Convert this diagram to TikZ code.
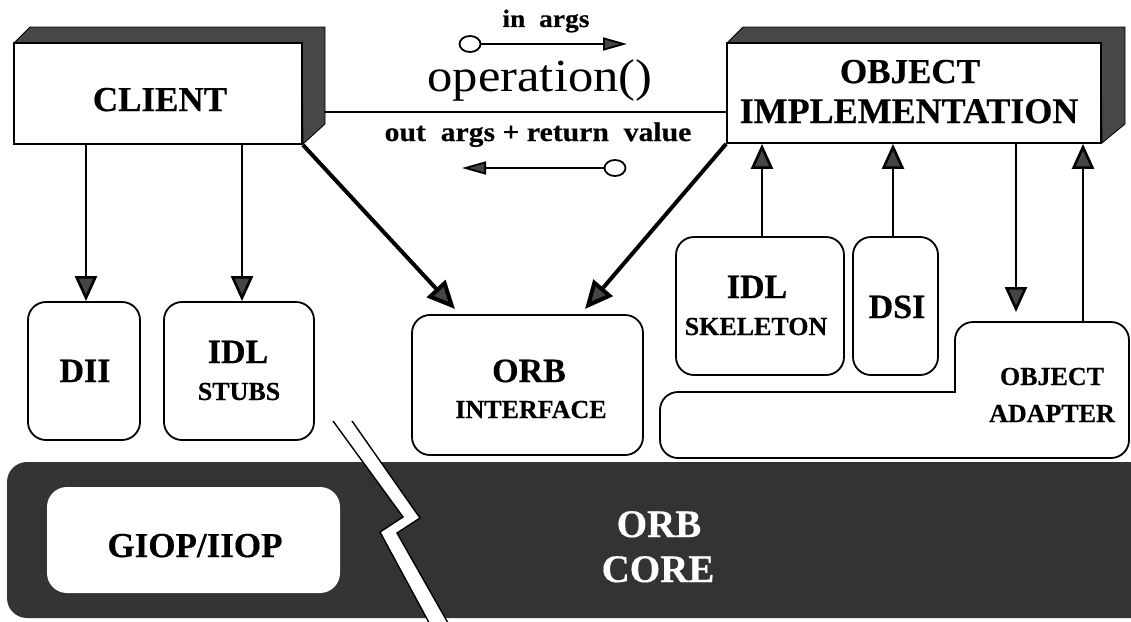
\documentclass[tikz,border=0pt]{standalone}
\usepackage{fontspec}
\setmainfont{Liberation Serif}[BoldFeatures={FakeBold=0.4}]
\newfontfamily\wideserif{Liberation Serif}[FakeStretch=1.1, BoldFeatures={FakeBold=0.4}]
\usetikzlibrary{arrows.meta,shapes.geometric}
\definecolor{slabgray}{HTML}{474747}
\definecolor{coregray}{HTML}{333333}
\definecolor{tipgray}{HTML}{454545}
\newcommand{\fsz}[1]{\fontsize{#1}{#1}\selectfont}
\tikzset{
  face/.style={draw=black, line width=1.8pt, fill=white, inner sep=0pt},
  slab/.style={fill=slabgray, draw=black, line width=0.8pt, line join=round},
  unit/.style={draw=black, line width=1.8pt, fill=white, rounded corners=18pt, inner sep=0pt},
  big/.style={font=\bfseries\fsz{34}, inner sep=0pt, anchor=base},
  small/.style={font=\bfseries\fsz{26}, inner sep=0pt, anchor=base},
  flow/.style={line width=2.6pt, -{Triangle[width=22pt,length=25pt,fill=tipgray]}},
  heavy/.style={line width=4pt, -{Triangle[width=25pt,length=28pt,fill=tipgray]}},
  msg/.style={line width=1.8pt, -{Triangle[width=13pt,length=24pt,fill=tipgray]}},
  port/.style={draw=black, line width=1.8pt, fill=white, ellipse, minimum width=21pt, minimum height=16pt, inner sep=0pt},
}
\begin{document}
\begin{tikzpicture}[x=1pt, y=-1pt]
\clip (0,0) rectangle (1131,621);
\fill[white] (0,0) rectangle (1131,621);

% ORB core band with the break through it
\fill[coregray, rounded corners=20pt] (7,462) rectangle (1170,618);
\node[fill=white, rounded corners=20pt, minimum width=293pt, minimum height=106pt, inner sep=0pt] (giop) at (193.5,540) {};
\fill[white] (333,421) -- (403,517) -- (380,532) -- (433,630) -- (452,630) -- (397,533) -- (420,518) -- (352,421) -- cycle;
\draw[line width=1.4pt] (333,421) -- (403,517) -- (380,532) -- (433,630);
\draw[line width=1.4pt] (352,421) -- (420,518) -- (397,533) -- (452,630);
\node[big, font=\bfseries\fsz{35}] (lgiop) at (195,557) {GIOP/IIOP};
\node[font=\bfseries\fsz{39}, text=white, inner sep=0pt, anchor=base] (lorb) at (659,537) {ORB};
\node[font=\bfseries\fsz{39}, text=white, inner sep=0pt, anchor=base] (lcore) at (658,582) {CORE};

% client
\fill[slab] (14,43) -- (30,27) -- (325,27) -- (325,124) -- (303,144) -- (302,43) -- cycle;
\node[face, minimum width=288pt, minimum height=101pt] (client) at (158,93.5) {};
\node[big, font=\bfseries\fsz{35}] (lclient) at (160,111) {CLIENT};

% object implementation
\fill[slab] (727,43) -- (743,27) -- (1125,27) -- (1125,124) -- (1102,143) -- (1101,43) -- cycle;
\node[face, minimum width=374pt, minimum height=100pt] (objimpl) at (914,93) {};
\node[big, font=\bfseries\fsz{35}] (lobj) at (910,83) {OBJECT};
\node[big, font=\bfseries\fsz{36}] (limpl) at (909,123) {IMPLEMENTATION};

% request line
\coordinate (reqL) at (325,112);
\draw[line width=1.4pt] (reqL) -- (objimpl.west |- reqL);
\node[font=\wideserif\bfseries\fsz{25}, inner sep=0pt, anchor=base] (lin) at (546,27) {in~~args};
\node[port] (pin) at (470,44) {};
\coordinate (pinTip) at (627,44);
\draw[msg] (pin.east) -- (pinTip);
\node[font=\wideserif\fsz{46}, inner sep=0pt, anchor=base] (lop) at (540,91) {operation()};
\node[font=\wideserif\bfseries\fsz{27}, inner sep=0pt, anchor=base] (lout) at (538,141) {out~~args + return~~value};
\node[port] (pout) at (615,168) {};
\coordinate (poutTip) at (462,168);
\draw[msg] (pout.west) -- (poutTip);

% client side units
\node[unit, minimum width=112pt, minimum height=138pt] (dii) at (84,371) {};
\node[big] (ldii) at (85,382) {DII};
\node[unit, minimum width=150pt, minimum height=138pt] (stubs) at (239,371) {};
\node[big] (lidl1) at (238,363) {IDL};
\node[small] (lstubs) at (239,400) {STUBS};
\node[unit, minimum width=231pt, minimum height=140pt] (orbint) at (527.5,385) {};
\node[big] (lorbi) at (529,382) {ORB};
\node[small] (linter) at (531,418) {INTERFACE};

% server side units
\node[unit, minimum width=168pt, minimum height=138pt] (skel) at (760,306) {};
\node[big] (lidl2) at (757,298) {IDL};
\node[small] (lskel) at (756,335) {SKELETON};
\node[unit, minimum width=85pt, minimum height=138pt] (dsi) at (895.5,306) {};
\node[big] (ldsi) at (897,318) {DSI};
\draw[unit] (880,392) [sharp corners] -- (955,392) [rounded corners=18pt] -- (955,322) -- (1129,322) -- (1129,458) -- (660,458) -- (660,392) -- cycle;
\node[small] (loa1) at (1052,385) {OBJECT};
\node[small] (loa2) at (1052,422) {ADAPTER};

% connectors
\draw[flow] (client.south -| 86,0) -- (dii.north -| 86,0);
\draw[flow] (client.south -| 242,0) -- (stubs.north -| 242,0);
\coordinate (ciTip) at (455,309);
\coordinate (oiTip) at (585,309);
\draw[heavy] (client.south east) -- (ciTip);
\draw[heavy] (objimpl.south west) -- (oiTip);
\draw[flow] (skel.north -| 762,0) -- (objimpl.south -| 762,0);
\draw[flow] (dsi.north -| 893,0) -- (objimpl.south -| 893,0);
\coordinate (oaDown) at (1016,312);
\coordinate (oaUp) at (1083,322);
\draw[flow] (objimpl.south -| oaDown) -- (oaDown);
\draw[flow] (oaUp) -- (objimpl.south -| oaUp);
\end{tikzpicture}
\end{document}
